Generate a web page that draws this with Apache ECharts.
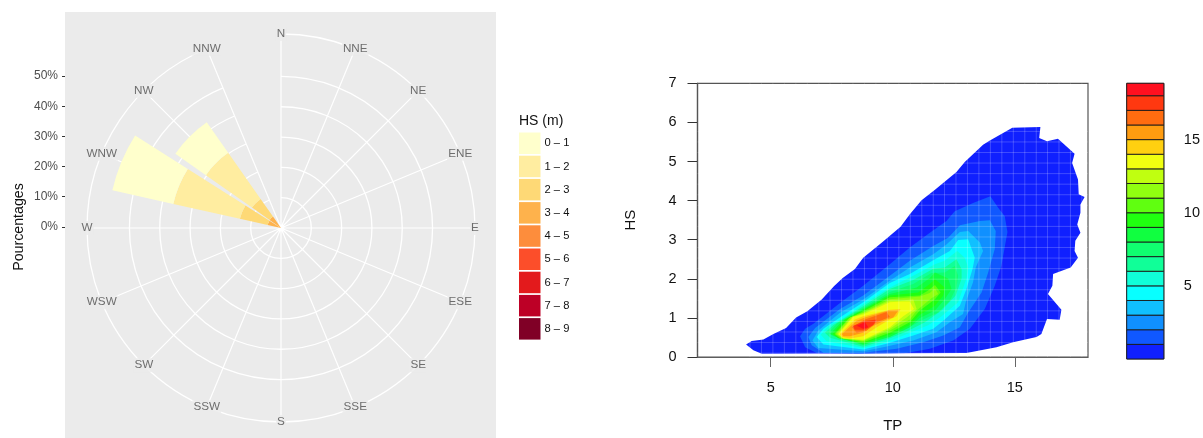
<!DOCTYPE html>
<html><head><meta charset="utf-8">
<style>html,body{margin:0;padding:0;background:#fff}#c{width:1203px;height:438px}</style>
<script src="https://cdn.jsdelivr.net/npm/echarts@6/dist/echarts.min.js"></script>
</head><body><div id="c"></div>
<script>
const directions = ['N','NNE','NE','ENE','E','ESE','SE','SSE','S','SSW','SW','WSW','W','WNW','NW','NNW'];
const hsClasses = ['0 – 1','1 – 2','2 – 3','3 – 4','4 – 5','5 – 6','6 – 7','7 – 8','8 – 9'];
const hsColours = ['#FFFFCC','#FFEDA0','#FED976','#FEB24C','#FD8D3C','#FC4E2A','#E31A1C','#BD0026','#800026'];
const hs01 = [0,0,0,0,0,0,0,0,0,0,0,0,0,20.6,12.3,0];
const hs12 = [0,0,0,0,0,0,0,0,0,0,0,0,0,22.5,18.6,0];
const hs23 = [0,0,0,0,0,0,0,0,0,0,0,0,0,9.4,7.1,0];
const hs34 = [0,0,0,0,0,0,0,0,0,0,0,0,0,4.5,4.6,0];
const hs45 = [0,0,0,0,0,0,0,0,0,0,0,0,0,0,0,0];
const hs56 = [0,0,0,0,0,0,0,0,0,0,0,0,0,0,0,0];
const hs67 = [0,0,0,0,0,0,0,0,0,0,0,0,0,0,0,0];
const hs78 = [0,0,0,0,0,0,0,0,0,0,0,0,0,0,0,0];
const hs89 = [0,0,0,0,0,0,0,0,0,0,0,0,0,0,0,0];
const percentTicks = [0,10,20,30,40,50];
const outerRing = 64;

const bandEdges = [0,1,2,3,4,5,6,7,8,9,10,11,12,13,14,15,16,17,18,18.85];
const bandColours = ['#1020FF','#1058FF','#1090FF','#10C0FF','#08FFFF','#10FFD8','#10FF98','#10FF70','#10FF40','#20FF10','#60FF10','#90FF10','#C0FF10','#F0FF10','#FFD010','#FF9C10','#FF6C10','#FF3810','#FF1020'];

const contour1 = [[3.99,0.32],[4.22,0.41],[4.70,0.45],[5.11,0.59],[5.63,0.74],[6.04,1.01],[6.50,1.17],[7.09,1.47],[7.59,1.81],[7.95,2.02],[8.45,2.25],[8.79,2.54],[9.58,2.94],[10.32,3.33],[10.70,3.65],[11.18,4.01],[11.73,4.28],[12.61,4.73],[12.95,4.99],[13.70,5.43],[13.98,5.54],[14.90,5.86],[16.05,5.88],[16.00,5.60],[16.32,5.52],[16.77,5.58],[17.11,5.39],[17.45,5.20],[17.35,4.96],[17.59,4.54],[17.62,4.16],[17.86,4.09],[17.69,3.90],[17.69,3.69],[17.56,3.39],[17.69,3.18],[17.48,2.97],[17.45,2.71],[17.59,2.54],[17.29,2.29],[16.57,2.12],[16.54,1.82],[16.36,1.61],[16.91,1.21],[16.84,0.95],[16.32,0.97],[16.09,0.59],[15.89,0.51],[14.93,0.38],[14.25,0.25],[13.02,0.10],[4.63,0.08],[4.29,0.17]];
const contour2 = [[6.20,0.53],[6.41,0.72],[6.75,0.85],[7.84,1.38],[8.79,1.82],[9.88,2.37],[10.70,2.80],[11.52,3.18],[12.20,3.48],[12.54,3.73],[13.29,3.94],[14.00,4.11],[14.32,3.82],[14.59,3.60],[14.70,3.20],[14.45,2.33],[14.18,1.82],[13.77,1.23],[13.16,0.72],[12.48,0.42],[11.52,0.21],[10.57,0.10],[8.52,0.08],[6.88,0.10],[6.41,0.25]];
const contour3 = [[6.54,0.51],[6.82,0.74],[7.84,1.23],[8.79,1.57],[9.88,2.08],[10.70,2.46],[11.66,2.84],[12.27,3.05],[12.75,3.37],[13.57,3.48],[13.98,3.50],[14.22,3.22],[14.18,2.76],[13.91,2.16],[13.64,1.65],[13.09,1.14],[12.75,0.76],[12.07,0.55],[11.25,0.38],[10.16,0.21],[8.79,0.11],[7.16,0.11],[6.68,0.30]];
const contour4 = [[6.71,0.42],[6.95,0.68],[7.84,1.13],[8.79,1.47],[9.88,1.95],[10.70,2.29],[11.66,2.63],[12.20,2.88],[12.75,3.20],[13.09,3.22],[13.57,2.93],[13.70,2.71],[13.40,2.29],[13.29,1.91],[12.99,1.40],[12.88,1.10],[12.34,0.89],[11.79,0.63],[10.84,0.42],[9.75,0.27],[8.79,0.15],[6.95,0.23]];
const contour5 = [[6.88,0.51],[7.16,0.72],[7.91,1.04],[8.79,1.40],[9.88,1.89],[10.70,2.12],[11.73,2.50],[12.34,2.71],[12.68,2.99],[13.09,3.01],[13.36,2.54],[13.27,2.25],[13.02,1.74],[12.75,1.31],[12.07,0.93],[11.66,0.72],[10.84,0.55],[9.75,0.34],[8.79,0.19],[7.16,0.32]];
const contour6 = [[7.05,0.57],[7.36,0.79],[7.97,0.99],[8.79,1.35],[9.88,1.78],[10.84,2.08],[11.73,2.37],[12.13,2.46],[12.64,2.71],[12.95,2.54],[13.09,2.29],[13.02,2.01],[12.68,1.40],[12.00,1.04],[11.45,0.81],[10.70,0.62],[9.75,0.38],[8.79,0.23],[7.29,0.40]];
const contour7 = [[7.22,0.62],[7.57,0.82],[8.79,1.30],[9.88,1.74],[10.84,1.97],[11.66,2.26],[12.13,2.29],[12.61,2.50],[12.82,2.25],[12.82,2.01],[12.58,1.57],[12.00,1.19],[11.32,0.89],[10.57,0.65],[9.75,0.45],[8.79,0.26],[7.43,0.49]];
const contour8 = [[7.36,0.62],[7.70,0.85],[8.79,1.26],[9.88,1.66],[10.84,1.87],[11.59,2.15],[12.13,2.16],[12.54,2.33],[12.68,2.08],[12.61,1.78],[12.34,1.44],[11.86,1.14],[11.25,0.96],[10.43,0.68],[9.61,0.48],[8.79,0.30],[7.57,0.53]];
const contour9 = [[7.43,0.59],[7.91,0.91],[8.79,1.23],[9.88,1.61],[10.98,1.78],[11.52,2.02],[11.73,2.16],[12.27,2.01],[12.41,1.74],[12.13,1.48],[11.73,1.19],[11.11,1.00],[10.70,0.76],[9.88,0.51],[8.79,0.32],[7.70,0.51]];
const contour10 = [[7.54,0.59],[8.04,0.96],[8.79,1.20],[9.88,1.57],[11.04,1.65],[11.52,1.87],[11.73,1.99],[12.13,1.78],[12.07,1.57],[11.73,1.31],[11.11,1.08],[10.70,0.82],[9.88,0.57],[8.79,0.35],[7.77,0.48]];
const contour11 = [[7.62,0.59],[8.18,0.98],[8.79,1.17],[9.88,1.53],[11.11,1.57],[11.45,1.70],[11.73,1.84],[11.96,1.65],[11.73,1.48],[11.11,1.19],[10.70,0.89],[9.88,0.62],[8.79,0.38],[7.84,0.48]];
const contour12 = [[7.67,0.59],[8.25,1.01],[8.79,1.14],[9.88,1.48],[11.11,1.55],[11.52,1.64],[11.73,1.76],[11.86,1.61],[11.59,1.50],[10.98,1.19],[10.70,0.96],[9.88,0.68],[8.79,0.41],[7.91,0.48]];
const contour13 = [[7.73,0.59],[8.32,1.01],[8.79,1.12],[9.88,1.44],[10.29,1.44],[10.84,1.48],[10.98,1.23],[10.57,1.01],[9.88,0.72],[8.79,0.42],[7.95,0.48]];
const contour14 = [[7.78,0.59],[8.38,1.03],[8.79,1.09],[9.88,1.40],[10.36,1.42],[10.70,1.42],[10.87,1.23],[10.43,1.04],[9.88,0.76],[8.79,0.44],[7.97,0.48]];
const contour15 = [[7.84,0.58],[8.45,0.96],[8.79,1.04],[9.88,1.21],[10.32,1.23],[10.16,1.04],[9.88,0.96],[9.34,0.76],[8.79,0.53],[8.25,0.47],[7.91,0.51]];
const contour16 = [[7.92,0.59],[8.52,0.93],[8.86,1.01],[9.82,1.19],[10.23,1.19],[10.02,1.01],[9.75,0.96],[9.20,0.79],[8.79,0.62],[8.25,0.53],[7.97,0.53]];
const contour17 = [[8.32,0.76],[8.86,0.96],[9.75,1.15],[9.88,1.02],[9.34,0.89],[8.93,0.68],[8.52,0.62]];
const contour18 = [[8.36,0.79],[8.86,0.92],[9.34,0.96],[9.20,0.82],[8.86,0.70],[8.45,0.70]];
const contour19 = [[8.52,0.80],[8.86,0.89],[9.00,0.76],[8.79,0.72]];
const contours = [contour1,contour2,contour3,contour4,contour5,contour6,contour7,contour8,contour9,contour10,contour11,contour12,contour13,contour14,contour15,contour16,contour17,contour18,contour19];

const latticeTP = [4.15,4.62,5.09,5.56,6.03,6.50,6.97,7.43,7.90,8.37,8.84,9.31,9.78,10.25,10.72,11.19,11.66,12.12,12.59,13.06,13.53,14.00,14.47,14.94,15.41,15.88,16.34,16.81,17.28,17.75];
const latticeHS = [0.10,0.37,0.64,0.91,1.18,1.45,1.72,1.99,2.26,2.53,2.80,3.07,3.34,3.61,3.88,4.15,4.42,4.69,4.96,5.23,5.50,5.77];
const tpTicks = [5,10,15];
const barTicks = [5,10,15];

const FF = '"Liberation Sans", Arial, sans-serif';
const hsData = [hs01,hs12,hs23,hs34,hs45,hs56,hs67,hs78,hs89];
const roseSeries = hsClasses.map((n,i)=>({
  name:n, type:'bar', coordinateSystem:'polar', polarIndex:0, stack:'rose', barWidth:'88%',
  itemStyle:{color:hsColours[i]}, data:hsData[i], z:5
})).reverse();

const directionLabels = {
  type:'scatter', coordinateSystem:'polar', polarIndex:0, z:6, silent:true, symbolSize:1,
  itemStyle:{color:'transparent'},
  data:directions.map((d,i)=>[outerRing,i]),
  label:{show:true,position:'inside',fontFamily:FF,fontSize:11.7,color:'#4D4D4D',backgroundColor:'#EBEBEB',padding:[1,1],
    formatter:p=>directions[p.dataIndex]}
};
const contourSeries = {
  type:'custom', xAxisIndex:1, yAxisIndex:1, z:3, silent:true,
  data:contours.map((_,i)=>[i]),
  renderItem:(p,api)=>({type:'polygon',
    shape:{points:contours[p.dataIndex].map(q=>api.coord(q))},
    style:{fill:bandColours[p.dataIndex]}})
};
const latticeSeries = {
  type:'custom', xAxisIndex:1, yAxisIndex:1, z:4, silent:true,
  data:latticeTP.map(v=>[v,0]).concat(latticeHS.map(v=>[0,v])),
  renderItem:(p,api)=>{
    const vert = p.dataIndex < latticeTP.length;
    const v = vert ? latticeTP[p.dataIndex] : latticeHS[p.dataIndex-latticeTP.length];
    const a = vert ? api.coord([v,0]) : api.coord([2,v]);
    const b = vert ? api.coord([v,7]) : api.coord([18,v]);
    return {type:'line',shape:{x1:a[0],y1:a[1],x2:b[0],y2:b[1]},style:{stroke:'rgba(255,255,255,0.2)',lineWidth:1}};
  }
};
const barSeries = {
  type:'custom', xAxisIndex:2, yAxisIndex:2, z:3, silent:true,
  data:bandColours.map((_,i)=>[0,bandEdges[i]]),
  renderItem:(p,api)=>{
    const i=p.dataIndex;
    const a=api.coord([0,bandEdges[i+1]]), b=api.coord([1,bandEdges[i]]);
    return {type:'rect',shape:{x:a[0],y:a[1],width:b[0]-a[0],height:b[1]-a[1]},
      style:{fill:bandColours[i],stroke:'#1a1a1a',lineWidth:0.9}};
  }
};

const chart = echarts.init(document.getElementById('c'));
chart.setOption({
  animation:false, backgroundColor:'#fff', textStyle:{fontFamily:FF},
  title:{text:'HS (m)',left:519,top:114,textStyle:{fontFamily:FF,fontSize:14,fontWeight:'normal',color:'#111'},padding:0},
  legend:{data:hsClasses,orient:'vertical',left:519,top:132.5,padding:0,itemWidth:21.5,itemHeight:21.5,itemGap:1.7,icon:'rect',
    selectedMode:false,textStyle:{fontFamily:FF,fontSize:11.2,color:'#111',padding:[0,0,0,-1]}},
  grid:[
    {left:65,top:12,width:431,height:428,show:true,backgroundColor:'#EBEBEB',borderWidth:0,z:0},
    {left:697.5,top:83.3,width:390.5,height:275.5,show:true,borderColor:'#555',borderWidth:1.2,z:1},
    {left:1126.7,top:83.3,width:38.3,height:275.7,show:true,borderColor:'#555',borderWidth:1,z:1}
  ],
  xAxis:[
    {gridIndex:0,type:'value',min:0,max:1,show:false},
    {gridIndex:1,type:'value',min:2,max:18,position:'bottom',name:'TP',nameLocation:'middle',nameGap:61,
      nameTextStyle:{fontFamily:FF,fontSize:15,color:'#111'},
      axisLine:{lineStyle:{color:'#666',width:1.2}},
      axisTick:{length:10,inside:false,lineStyle:{color:'#666',width:1},customValues:tpTicks},
      axisLabel:{fontFamily:FF,fontSize:14.5,color:'#111',margin:23,customValues:tpTicks,formatter:'{value}'},
      splitLine:{show:false}},
    {gridIndex:2,type:'value',min:0,max:1,show:false}
  ],
  yAxis:[
    {gridIndex:0,type:'value',min:-70,max:71.25,interval:10,position:'left',name:'Pourcentages',nameLocation:'middle',nameGap:39,
      nameTextStyle:{fontFamily:FF,fontSize:14.2,color:'#111',padding:[0,4,0,0]},
      axisLine:{show:false},
      axisTick:{show:true,length:3,lineStyle:{color:'#333',width:1},customValues:percentTicks},
      axisLabel:{fontFamily:FF,fontSize:12,color:'#4D4D4D',margin:7,customValues:percentTicks,formatter:'{value}%'},
      splitLine:{show:false}},
    {gridIndex:1,type:'value',min:0,max:7,interval:1,position:'left',name:'HS',nameLocation:'middle',nameGap:59,
      nameTextStyle:{fontFamily:FF,fontSize:15,color:'#111'},
      axisLine:{show:true,lineStyle:{color:'#222',width:1.2}},
      axisTick:{show:true,length:10,lineStyle:{color:'#333',width:1}},
      axisLabel:{fontFamily:FF,fontSize:14.5,color:'#111',margin:21},
      splitLine:{show:false}},
    {gridIndex:2,type:'value',min:0,max:18.85,position:'right',
      axisLine:{show:false},
      axisTick:{show:true,length:10,lineStyle:{color:'#555',width:1},customValues:barTicks},
      axisLabel:{fontFamily:FF,fontSize:14.5,color:'#111',margin:20,customValues:barTicks},
      splitLine:{show:false}}
  ],
  polar:[{center:[281,228],radius:[0,194]}],
  angleAxis:[{polarIndex:0,type:'category',data:directions,boundaryGap:false,startAngle:90,clockwise:true,z:2,
    axisLine:{show:true,lineStyle:{color:'#fff',width:1.3}},
    axisTick:{show:false},
    axisLabel:{show:false},
    splitLine:{show:true,lineStyle:{color:'#fff',width:1.2}}
  }],
  radiusAxis:[{polarIndex:0,type:'value',min:0,max:outerRing,interval:10,z:2,
    axisLine:{show:false},
    axisTick:{show:false,customValues:[10,20,30,40,50]},
    axisLabel:{show:false},
    splitLine:{show:true,lineStyle:{color:'#fff',width:1.3}}
  }],
  series:[...roseSeries,directionLabels,contourSeries,latticeSeries,barSeries]
});
</script></body></html>
